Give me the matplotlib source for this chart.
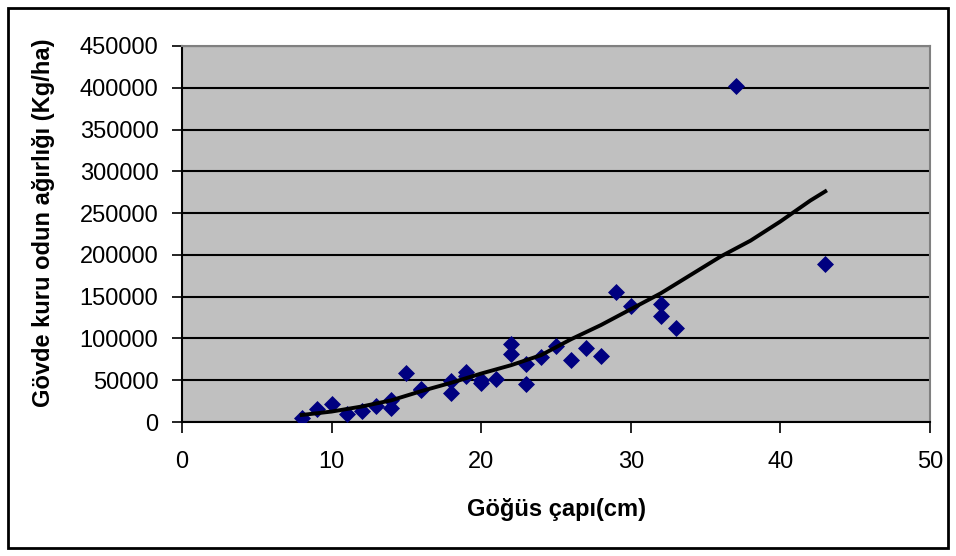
import matplotlib.pyplot as plt
from matplotlib.patches import Rectangle

# Göğüs çapı (cm) ve gövde kuru odun ağırlığı (Kg/ha)
cap = [8, 9, 10, 11, 12, 13, 14, 14, 15, 16, 16, 18, 18, 19, 19, 20, 20,
       21, 22, 22, 23, 23, 24, 25, 26, 27, 28, 29, 30, 32, 32, 33, 37, 43]
agirlik = [5000, 15500, 21000, 9600, 13000, 19000, 26000, 17000, 59000,
           40000, 38000, 49000, 35000, 60000, 55000, 50000, 47000, 52000,
           93000, 81000, 69000, 45000, 78000, 91000, 74000, 89000, 79000,
           155000, 139000, 141000, 127000, 112000, 402000, 189000]

# trend çizgisi
trend_x = [8, 10, 12, 14, 16, 18, 20, 22, 24, 26, 28, 30, 32, 34, 36, 38, 40, 42, 43]
trend_y = [8400, 12500, 18500, 26000, 37000, 47000, 58000, 68000, 80000,
           99000, 116000, 135000, 154000, 176000, 198000, 217000, 240000,
           265000, 276000]

plt.rcParams['font.family'] = ['Liberation Sans', 'DejaVu Sans']

fig = plt.figure(figsize=(9.56, 5.56), dpi=100)
ax = fig.add_axes([0.1904, 0.241, 0.7824, 0.6763])
ax.set_facecolor('#C0C0C0')

ax.scatter(cap, agirlik, marker='D', s=75, color='#000080', zorder=3, linewidths=0)
ax.plot(trend_x, trend_y, color='black', linewidth=2.8, zorder=4)

ax.set_xlim(0, 50)
ax.set_ylim(0, 450000)
ax.set_xticks(range(0, 51, 10))
ax.set_yticks(range(0, 450001, 50000))
ax.yaxis.grid(True, color='black', linewidth=1.5)
ax.set_axisbelow(True)

for side in ['top', 'right']:
    ax.spines[side].set_color('#808080')
    ax.spines[side].set_linewidth(1.5)
for side in ['left', 'bottom']:
    ax.spines[side].set_color('black')
    ax.spines[side].set_linewidth(1.5)

ax.tick_params(axis='both', width=1.2, color='black')
ax.tick_params(axis='x', direction='out', length=8, pad=13, labelsize=17)
ax.tick_params(axis='y', direction='out', length=7, pad=10, labelsize=17)

ax.set_xlabel('Göğüs çapı(cm)', fontsize=17, fontweight='bold')
ax.set_ylabel('Gövde kuru odun ağırlığı (Kg/ha)', fontsize=17,
              fontweight='bold')
ax.xaxis.set_label_coords(0.5, -0.203)
ax.yaxis.set_label_coords(-0.17, 0.53)

# dış çerçeve
fig.patches.append(Rectangle((8 / 956, 8 / 556), 940 / 956, 540 / 556,
                             transform=fig.transFigure, fill=False,
                             edgecolor='black', linewidth=2))

fig.savefig('out.png', dpi=100)
